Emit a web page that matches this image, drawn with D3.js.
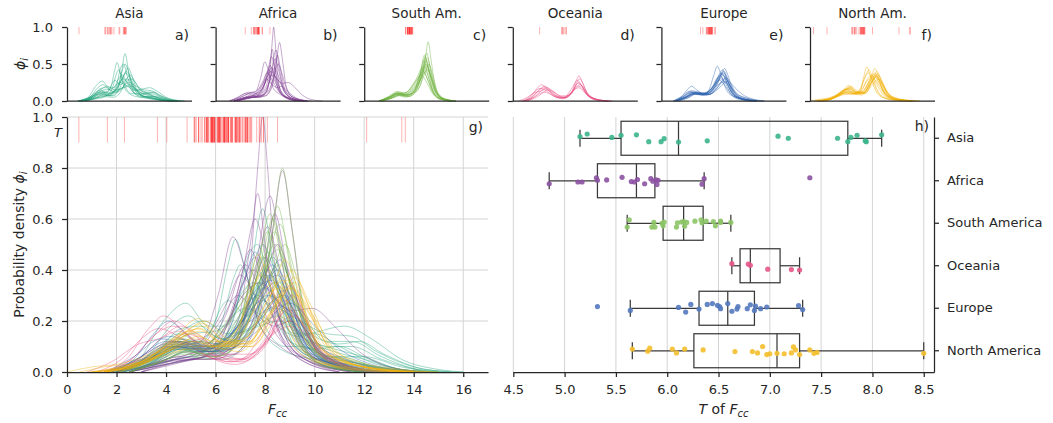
<!DOCTYPE html>
<html>
<head>
<meta charset="utf-8">
<script src="https://d3js.org/d3.v7.min.js"></script>
<style>
  body { margin: 0; background: #fff; }
  svg text { font-family: "DejaVu Sans", sans-serif; fill: #262626; }
  .domain, .tick line { stroke: #262626; stroke-width: 1.25; }
</style>
</head>
<body>
<div id="chart"></div>
<script>
// ---------- data ----------
const regions = ["Asia", "Africa", "South America", "Oceania", "Europe", "North America"];
const shortNames = ["Asia", "Africa", "South Am.", "Oceania", "Europe", "North Am."];
const panelTags = ["a)", "b)", "c)", "d)", "e)", "f)"];
const curveColors = ["#1fa37a", "#7b3a8f", "#6fb23f", "#e8457f", "#2f62ae", "#f1b20c"];
const pointColors = ["#3cb48c", "#8c52a2", "#8cc465", "#e6568a", "#5479be", "#f4bf2c"];

// density curves phi_i, key points [F_cc, phi]
const asiaCurves = [
  [[1.5,0],[3,0.02],[4,0.07],[4.8,0.1],[5.8,0.07],[6.8,0.12],[7.4,0.38],[7.9,0.64],[8.4,0.38],[9.2,0.1],[10.3,0.05],[11,0.06],[12.5,0.02],[15,0]],
  [[1.5,0],[2.8,0.03],[3.7,0.1],[4.5,0.15],[5.3,0.12],[6,0.2],[6.5,0.42],[6.8,0.52],[7.2,0.4],[7.8,0.18],[8.8,0.08],[10,0.05],[11.5,0.03],[14,0]],
  [[1.5,0],[2.8,0.04],[3.9,0.2],[4.8,0.27],[5.7,0.18],[6.4,0.18],[7,0.3],[7.5,0.35],[8.1,0.26],[9,0.12],[10,0.09],[11,0.1],[12.2,0.05],[13.5,0.01],[15,0]],
  [[2,0],[3.5,0.03],[5,0.08],[6.3,0.07],[7.3,0.2],[7.9,0.38],[8.3,0.45],[8.8,0.35],[9.5,0.15],[10.5,0.06],[12,0.03],[14,0]],
  [[1.8,0],[3.2,0.04],[4.5,0.15],[5.5,0.2],[6.5,0.15],[7.5,0.18],[8.3,0.28],[8.8,0.3],[9.5,0.22],[10.5,0.12],[11.5,0.12],[12.7,0.06],[14.2,0.01],[15.5,0]],
  [[1.5,0],[3,0.05],[4.5,0.12],[5.8,0.08],[7,0.2],[7.6,0.33],[8,0.38],[8.5,0.32],[9.3,0.15],[10.5,0.06],[12,0.06],[13.5,0.02],[15,0]],
  [[2,0],[3.3,0.05],[4.3,0.12],[5,0.15],[6,0.16],[7.2,0.25],[8.2,0.2],[9.3,0.14],[10.2,0.16],[11.2,0.18],[12.3,0.13],[13.5,0.05],[15,0.01],[16,0]],
  [[2.5,0],[4,0.04],[5.2,0.07],[6.3,0.12],[7.1,0.24],[7.7,0.3],[8.4,0.23],[9.2,0.15],[10,0.15],[11,0.1],[12.5,0.03],[14.5,0]],
  [[1.8,0],[3.2,0.06],[4.2,0.18],[4.9,0.22],[5.8,0.15],[6.8,0.12],[7.8,0.19],[8.5,0.22],[9.4,0.16],[10.5,0.1],[11.5,0.1],[12.7,0.05],[14.5,0]],
  [[2.5,0],[4,0.03],[5.2,0.06],[6.2,0.18],[6.7,0.36],[7,0.42],[7.4,0.34],[8.1,0.16],[8.8,0.1],[9.5,0.1],[10.6,0.05],[12.5,0.01],[14,0]],
  [[2.5,0],[4,0.04],[5,0.06],[6.3,0.05],[7.4,0.14],[8.1,0.3],[8.6,0.35],[9.2,0.27],[10,0.14],[11,0.11],[11.8,0.12],[12.8,0.07],[14.5,0.01],[16,0]],
  [[1.5,0],[2.8,0.03],[4.4,0.1],[5.5,0.12],[6.5,0.28],[7.3,0.22],[8.2,0.3],[9,0.2],[10,0.09],[11.5,0.04],[13,0.01],[14.5,0]],
  [[2,0],[3.5,0.04],[4.7,0.13],[5.6,0.1],[6.6,0.14],[7.5,0.3],[8.1,0.4],[8.7,0.3],[9.6,0.13],[10.8,0.08],[12,0.05],[13.5,0.01],[15,0]],
  [[2.2,0],[3.6,0.05],[4.6,0.09],[5.6,0.07],[6.7,0.2],[7.3,0.45],[7.7,0.5],[8.2,0.33],[9,0.12],[10.2,0.06],[11.5,0.04],[13,0]],
  [[1.5,0],[3,0.04],[4.3,0.1],[5.3,0.12],[6.3,0.11],[7.4,0.17],[8.4,0.25],[9.4,0.2],[10.5,0.15],[11.5,0.14],[12.5,0.08],[14,0.02],[15.5,0]],
  [[2.5,0],[4,0.05],[5,0.09],[6,0.1],[7,0.22],[7.9,0.5],[8.3,0.42],[9,0.18],[10,0.08],[11.3,0.05],[13,0.01],[14.5,0]],
  [[2,0],[3.4,0.05],[4.6,0.17],[5.4,0.18],[6.2,0.13],[7.2,0.16],[8.6,0.2],[9.6,0.13],[10.8,0.09],[12,0.06],[13.5,0.01],[15,0]]
];
const africaCurves = [
  [[2.5,0],[4,0.03],[5,0.05],[6,0.05],[6.9,0.12],[7.4,0.4],[7.7,0.8],[7.9,1.0],[8.1,0.8],[8.4,0.4],[8.9,0.12],[9.8,0.04],[11,0.01],[12.5,0]],
  [[2.5,0],[3.7,0.04],[4.5,0.06],[5.5,0.05],[6.8,0.07],[7.7,0.2],[8.3,0.55],[8.7,0.79],[9.1,0.55],[9.6,0.2],[10.5,0.05],[12,0.01],[13,0]],
  [[2.5,0],[3.8,0.04],[4.8,0.08],[5.8,0.06],[6.9,0.12],[7.6,0.4],[8.2,0.69],[8.7,0.42],[9.3,0.15],[10.3,0.04],[12,0]],
  [[2,0],[3.3,0.04],[4.5,0.1],[5.4,0.12],[6.1,0.3],[6.7,0.53],[7.2,0.4],[7.8,0.18],[8.6,0.1],[9.6,0.05],[11,0.01],[12.5,0]],
  [[2.5,0],[4,0.04],[5.2,0.05],[6.3,0.12],[7.1,0.4],[7.6,0.6],[8.1,0.42],[8.8,0.14],[9.8,0.04],[11.5,0]],
  [[2.5,0],[4,0.03],[5.5,0.06],[6.5,0.2],[7.5,0.4],[8.3,0.3],[9.1,0.24],[9.9,0.25],[10.8,0.18],[11.8,0.08],[13,0.02],[14.5,0]],
  [[2,0],[3.3,0.06],[4.5,0.12],[5.5,0.1],[6.4,0.22],[7.2,0.42],[7.9,0.3],[8.8,0.12],[10,0.04],[11.5,0]],
  [[3,0],[4.3,0.03],[5.5,0.06],[6.7,0.07],[7.6,0.2],[8.1,0.4],[8.5,0.5],[9,0.38],[9.7,0.15],[10.7,0.04],[12.5,0]],
  [[1.8,0],[3,0.05],[4,0.1],[5,0.09],[6.2,0.15],[7.1,0.3],[7.8,0.35],[8.6,0.27],[9.6,0.12],[10.8,0.04],[12.5,0]],
  [[2.5,0],[4,0.05],[5.2,0.08],[6.2,0.2],[6.9,0.3],[7.7,0.22],[8.4,0.18],[9,0.2],[9.8,0.13],[11,0.04],[12.5,0]],
  [[3,0],[4.5,0.05],[5.7,0.05],[6.8,0.12],[7.6,0.38],[8.1,0.57],[8.6,0.4],[9.3,0.14],[10.3,0.04],[12,0]],
  [[2.5,0],[3.8,0.03],[4.9,0.07],[6,0.1],[6.9,0.32],[7.4,0.48],[7.9,0.36],[8.6,0.14],[9.6,0.04],[11,0]],
  [[2.5,0],[4,0.04],[5.2,0.07],[6.3,0.15],[7.1,0.35],[7.6,0.45],[8.2,0.3],[9,0.12],[10,0.04],[11.5,0]],
  [[3,0],[4.4,0.04],[5.6,0.06],[6.8,0.1],[7.8,0.3],[8.4,0.62],[8.8,0.45],[9.4,0.16],[10.4,0.04],[12,0]],
  [[2,0],[3.4,0.05],[4.6,0.11],[5.6,0.14],[6.5,0.28],[7,0.38],[7.6,0.3],[8.5,0.14],[9.6,0.05],[11,0]],
  [[2.5,0],[3.8,0.04],[5,0.06],[6.2,0.08],[7.3,0.25],[8,0.45],[8.5,0.35],[9.3,0.13],[10.5,0.03],[12,0]],
  [[3,0],[4.5,0.04],[5.8,0.07],[6.9,0.2],[7.4,0.5],[7.7,0.7],[8,0.5],[8.5,0.18],[9.4,0.05],[11,0]]
];
const southAmCurves = [
  [[2,0],[3.4,0.03],[4.6,0.08],[5.6,0.05],[6.6,0.1],[7.6,0.2],[8.3,0.55],[8.7,0.8],[9.1,0.55],[9.7,0.18],[10.6,0.04],[12,0]],
  [[2,0],[3.4,0.05],[4.5,0.1],[5.4,0.08],[6.5,0.15],[7.4,0.28],[8,0.5],[8.3,0.6],[8.7,0.48],[9.4,0.18],[10.4,0.04],[12,0]],
  [[2.2,0],[3.6,0.05],[4.8,0.11],[5.8,0.08],[6.8,0.15],[7.6,0.38],[8.1,0.55],[8.6,0.38],[9.3,0.14],[10.3,0.03],[12,0]],
  [[2,0],[3.3,0.04],[4.4,0.09],[5.5,0.07],[6.6,0.11],[7.6,0.28],[8.4,0.5],[9,0.35],[9.8,0.12],[10.8,0.03],[12.5,0]],
  [[2.2,0],[3.6,0.06],[4.7,0.12],[5.5,0.1],[6.3,0.18],[7.2,0.32],[7.9,0.45],[8.5,0.32],[9.3,0.12],[10.3,0.03],[12,0]],
  [[2.5,0],[3.8,0.04],[4.9,0.08],[6,0.06],[7,0.13],[7.9,0.35],[8.6,0.58],[9.1,0.4],[9.8,0.13],[10.8,0.03],[12.5,0]],
  [[2.5,0],[3.8,0.05],[5,0.1],[5.8,0.12],[6.7,0.22],[7.4,0.32],[8,0.4],[8.6,0.3],[9.4,0.11],[10.5,0.03],[12,0]],
  [[2,0],[3.2,0.05],[4.3,0.1],[5.3,0.08],[6.5,0.1],[7.6,0.27],[8.5,0.48],[9.1,0.32],[9.9,0.1],[11,0.02],[12.5,0]],
  [[2.3,0],[3.5,0.04],[4.6,0.09],[5.6,0.07],[6.7,0.12],[7.6,0.35],[8.2,0.62],[8.7,0.42],[9.4,0.13],[10.4,0.03],[12,0]],
  [[2,0],[3.3,0.06],[4.5,0.13],[5.4,0.11],[6.4,0.17],[7.1,0.28],[7.7,0.35],[8.4,0.27],[9.3,0.1],[10.4,0.02],[12,0]],
  [[2.5,0],[3.8,0.04],[4.8,0.07],[6,0.06],[7.2,0.14],[8.2,0.36],[8.8,0.5],[9.3,0.36],[10,0.12],[11,0.03],[12.5,0]],
  [[2.2,0],[3.5,0.05],[4.7,0.1],[5.7,0.08],[6.7,0.13],[7.7,0.33],[8.4,0.55],[8.9,0.38],[9.6,0.13],[10.6,0.03],[12,0]],
  [[2,0],[3.4,0.05],[4.6,0.11],[5.5,0.09],[6.5,0.16],[7.4,0.3],[8.1,0.47],[8.7,0.33],[9.5,0.11],[10.5,0.02],[12,0]],
  [[2.5,0],[3.8,0.04],[5,0.09],[6,0.08],[7,0.14],[7.9,0.4],[8.5,0.65],[9,0.42],[9.7,0.13],[10.7,0.03],[12,0]],
  [[2,0],[3.3,0.05],[4.4,0.11],[5.4,0.09],[6.6,0.14],[7.7,0.3],[8.6,0.42],[9.3,0.28],[10.1,0.08],[11.2,0.02],[12.5,0]]
];
const oceaniaCurves = [
  [[1.3,0],[2.4,0.05],[3.3,0.17],[3.9,0.22],[4.7,0.16],[5.6,0.07],[6.8,0.03],[7.9,0.1],[8.6,0.27],[9,0.34],[9.4,0.27],[10.1,0.1],[11,0.03],[12.5,0]],
  [[1.5,0],[2.6,0.05],[3.5,0.14],[4.3,0.2],[5.1,0.15],[6,0.07],[7,0.04],[8,0.1],[8.7,0.25],[9.1,0.3],[9.5,0.24],[10.3,0.08],[11.5,0.02],[13,0]],
  [[1.8,0],[3,0.06],[3.9,0.14],[4.6,0.18],[5.4,0.14],[6.3,0.07],[7.2,0.05],[8.1,0.12],[8.9,0.25],[9.4,0.2],[10.2,0.08],[11.5,0.02],[13,0]],
  [[1.2,0],[2.2,0.05],[3,0.13],[3.7,0.17],[4.5,0.14],[5.5,0.07],[6.7,0.04],[7.9,0.1],[8.7,0.2],[9.2,0.22],[9.7,0.17],[10.5,0.07],[12,0.01],[13.5,0]],
  [[2,0],[3.2,0.05],[4.1,0.11],[4.8,0.15],[5.6,0.12],[6.5,0.07],[7.4,0.07],[8.3,0.15],[9,0.2],[9.6,0.15],[10.5,0.06],[12,0.01],[13.5,0]],
  [[1.5,0],[2.7,0.04],[3.5,0.09],[4.2,0.12],[5,0.1],[6,0.05],[7,0.05],[8,0.17],[8.8,0.28],[9.3,0.22],[10.1,0.08],[11.5,0.01],[13,0]],
  [[0.8,0],[1.8,0.04],[2.9,0.11],[3.7,0.13],[4.5,0.16],[5.4,0.1],[6.5,0.04],[7.6,0.08],[8.5,0.16],[9,0.18],[9.7,0.12],[10.8,0.04],[12.5,0]],
  [[1.5,0],[2.6,0.05],[3.6,0.15],[4.3,0.18],[5.1,0.13],[6.1,0.06],[7.1,0.05],[8.1,0.14],[8.9,0.24],[9.4,0.2],[10.2,0.07],[11.5,0.01],[13,0]]
];
const europeCurves = [
  [[1.6,0],[2.7,0.05],[3.5,0.15],[4.1,0.2],[4.8,0.15],[5.6,0.1],[6.4,0.14],[7.1,0.34],[7.6,0.47],[8.1,0.36],[8.8,0.16],[9.8,0.06],[11,0.03],[13,0]],
  [[2,0],[3.1,0.05],[4.3,0.12],[5.4,0.1],[6.5,0.09],[7.5,0.2],[8.2,0.38],[8.6,0.44],[9,0.36],[9.7,0.16],[10.7,0.05],[12.5,0.01],[14,0]],
  [[2,0],[3.3,0.05],[4.5,0.1],[5.6,0.08],[6.6,0.1],[7.5,0.22],[8.4,0.35],[9.1,0.25],[10,0.1],[11.2,0.03],[13,0]],
  [[1.8,0],[3,0.06],[4,0.11],[5,0.09],[6.2,0.08],[7.3,0.14],[8.3,0.28],[8.8,0.32],[9.4,0.24],[10.2,0.1],[11,0.06],[12.3,0.02],[14,0]],
  [[2,0],[3.4,0.06],[4.6,0.12],[5.6,0.1],[6.6,0.13],[7.5,0.28],[8.2,0.38],[8.8,0.27],[9.6,0.1],[10.8,0.03],[12.5,0]],
  [[2,0],[3.2,0.04],[4.4,0.09],[5.5,0.08],[6.6,0.09],[7.7,0.19],[8.7,0.3],[9.4,0.2],[10.3,0.07],[11.5,0.02],[13,0]],
  [[1.6,0],[2.7,0.06],[3.8,0.13],[4.8,0.11],[5.8,0.1],[6.9,0.18],[7.9,0.28],[8.7,0.2],[9.6,0.08],[10.8,0.03],[12.5,0]],
  [[2.3,0],[3.6,0.04],[4.9,0.1],[5.9,0.09],[6.9,0.14],[7.8,0.3],[8.5,0.4],[9.1,0.28],[9.9,0.09],[11,0.02],[12.5,0]],
  [[1.8,0],[3,0.04],[4.2,0.1],[5.3,0.09],[6.5,0.09],[7.8,0.17],[9,0.27],[10,0.18],[11,0.09],[12.3,0.03],[14,0]],
  [[2.3,0],[3.7,0.05],[5,0.12],[6,0.11],[7,0.19],[8,0.33],[8.7,0.24],[9.5,0.09],[10.6,0.02],[12,0]],
  [[2,0],[3.3,0.05],[4.4,0.1],[5.4,0.09],[6.4,0.1],[7.3,0.2],[8,0.34],[8.5,0.38],[9.1,0.24],[10,0.08],[11.3,0.02],[13,0]],
  [[1.8,0],[3,0.06],[4.1,0.14],[5,0.12],[6,0.1],[7.1,0.2],[8.1,0.3],[8.9,0.23],[9.8,0.09],[11,0.03],[13,0]],
  [[2,0],[3.3,0.05],[4.5,0.11],[5.5,0.09],[6.6,0.12],[7.6,0.3],[8.3,0.42],[8.9,0.3],[9.7,0.1],[10.8,0.03],[12.5,0]],
  [[1.6,0],[2.8,0.05],[4,0.12],[5,0.1],[6.2,0.1],[7.4,0.2],[8.6,0.26],[9.5,0.18],[10.5,0.08],[11.8,0.03],[13.5,0]],
  [[2.2,0],[3.5,0.05],[4.7,0.1],[5.8,0.1],[6.8,0.17],[7.7,0.33],[8.3,0.36],[9,0.22],[9.9,0.07],[11.2,0.02],[13,0]]
];
const northAmCurves = [
  [[0.5,0],[1.5,0.02],[3,0.04],[4.3,0.13],[5.3,0.21],[6.1,0.12],[6.7,0.1],[7.3,0.32],[7.7,0.46],[8.2,0.34],[8.9,0.14],[9.8,0.05],[11,0.02],[13,0]],
  [[1,0],[2.5,0.02],[3.8,0.07],[5,0.15],[6,0.1],[7,0.08],[7.9,0.2],[8.5,0.38],[8.8,0.44],[9.2,0.36],[9.9,0.14],[11,0.04],[13,0.01],[15,0]],
  [[1.5,0],[3,0.03],[4.5,0.12],[5.5,0.18],[6.5,0.11],[7.5,0.1],[8.4,0.25],[9.1,0.4],[9.6,0.3],[10.3,0.12],[11.5,0.03],[14,0]],
  [[1.5,0],[3,0.03],[4.3,0.09],[5.2,0.12],[6.2,0.09],[7.2,0.1],[8.2,0.26],[8.9,0.36],[9.5,0.26],[10.3,0.1],[11.5,0.03],[14,0]],
  [[1,0],[2.5,0.02],[3.8,0.07],[4.8,0.1],[5.8,0.1],[6.8,0.16],[7.5,0.33],[7.9,0.38],[8.4,0.3],[9.2,0.12],[10.3,0.04],[12,0.01],[14,0]],
  [[1.5,0],[3,0.04],[4.5,0.13],[5.4,0.16],[6.4,0.1],[7.4,0.12],[8.3,0.25],[9,0.33],[9.7,0.24],[10.6,0.1],[11.8,0.04],[13.5,0.01],[15,0]],
  [[1.5,0],[3,0.03],[4.2,0.1],[5.1,0.13],[6.1,0.1],[7.1,0.12],[8,0.24],[8.6,0.3],[9.3,0.22],[10.2,0.08],[11.5,0.02],[13.5,0]],
  [[2,0],[3.5,0.05],[4.7,0.15],[5.6,0.2],[6.5,0.13],[7.5,0.12],[8.5,0.27],[9.2,0.35],[9.8,0.25],[10.6,0.09],[12,0.02],[14,0]],
  [[1,0],[2.5,0.02],[3.8,0.06],[4.9,0.09],[5.9,0.09],[6.9,0.17],[7.6,0.35],[8,0.42],[8.5,0.32],[9.3,0.12],[10.4,0.03],[12.5,0]],
  [[1.5,0],[3,0.03],[4.4,0.1],[5.3,0.14],[6.3,0.1],[7.4,0.1],[8.5,0.22],[9.3,0.3],[10,0.21],[10.9,0.08],[12.3,0.02],[14.5,0]],
  [[0,0],[1,0.02],[2,0.03],[3.3,0.07],[4.6,0.15],[5.4,0.17],[6.3,0.11],[7.3,0.14],[8.2,0.3],[8.7,0.36],[9.3,0.27],[10.2,0.1],[11.6,0.03],[13.5,0]],
  [[1,0],[2.5,0.03],[4,0.1],[5,0.16],[5.9,0.12],[7,0.12],[8.1,0.28],[8.8,0.38],[9.4,0.28],[10.2,0.1],[11.5,0.03],[13.5,0]],
  [[1.5,0],[3,0.04],[4.4,0.12],[5.3,0.17],[6.2,0.12],[7.2,0.11],[8.3,0.24],[9.1,0.33],[9.8,0.23],[10.7,0.08],[12,0.02],[14,0]],
  [[1,0],[2.7,0.03],[4,0.09],[5,0.12],[6,0.1],[7,0.14],[7.8,0.3],[8.4,0.35],[9.1,0.22],[10,0.08],[11.3,0.02],[13,0]],
  [[1.5,0],[3,0.04],[4.5,0.14],[5.5,0.19],[6.4,0.12],[7.4,0.11],[8.6,0.3],[9.2,0.37],[9.8,0.27],[10.7,0.09],[12,0.02],[14,0]],
  [[0.8,0],[2.2,0.02],[3.6,0.06],[4.8,0.11],[5.8,0.1],[6.9,0.14],[8,0.3],[8.7,0.33],[9.5,0.22],[10.5,0.07],[12,0.02],[14,0]]
];

// T of F_cc per country (shown in panel h)
const asiaT = [5.15,5.22,5.46,5.55,5.70,5.82,5.94,5.97,6.11,6.39,7.08,7.18,7.66,7.76,7.79,7.85,7.93,7.94,8.09];
const africaT = [4.85,5.13,5.17,5.31,5.32,5.41,5.56,5.65,5.68,5.71,5.78,5.84,5.86,5.89,5.90,5.91,6.34,6.36,7.39];
const southAmT = [5.61,5.63,5.85,5.87,5.88,5.95,5.96,5.97,6.09,6.10,6.14,6.16,6.17,6.19,6.27,6.33,6.34,6.38,6.45,6.47,6.52,6.52,6.62];
const oceaniaT = [6.63,6.79,6.81,6.98,7.21,7.29];
const europeT = [5.32,5.64,6.11,6.18,6.23,6.31,6.39,6.44,6.49,6.51,6.52,6.59,6.63,6.68,6.69,6.78,6.81,6.85,6.86,6.91,6.97,7.28,7.32];
const northAmT = [5.66,5.81,5.83,6.05,6.09,6.17,6.35,6.66,6.83,6.88,6.93,6.97,7.00,7.07,7.14,7.21,7.23,7.25,7.29,7.39,7.43,7.46,8.50];
// T values outside the range of panel h (only in the rug marks)
const asiaTOut = [1.63];
const africaTOut = [4.03];
const southAmTOut = [];
const oceaniaTOut = [3.65];
const europeTOut = [];
const northAmTOut = [0.48, 2.32, 12.1, 13.52, 13.66];

// strip jitter, fraction of a category row
const asiaJitter = [-0.04,-0.10,-0.02,-0.07,-0.08,0.08,0.08,0.01,0.09,0.06,-0.05,0,0,0.08,-0.02,-0.07,0.06,0.08,-0.08];
const africaJitter = [0.07,0.03,0.03,-0.07,-0.01,-0.02,-0.08,0.02,0.03,-0.03,0.07,-0.05,0.01,-0.02,0.09,-0.01,0.08,-0.05,-0.07];
const southAmJitter = [0.09,-0.08,0.09,-0.02,0.09,0,0.06,-0.03,0.09,-0.01,-0.03,-0.04,0.07,-0.02,-0.05,-0.08,-0.01,-0.05,-0.04,0.06,-0.05,-0.02,-0.02];
const oceaniaJitter = [-0.05,-0.04,-0.01,0.08,0.09,0.10];
const europeJitter = [-0.04,0.05,-0.02,0.09,-0.09,0.02,-0.09,-0.11,-0.07,-0.04,0.01,-0.11,0.07,0.02,-0.04,0.01,-0.08,0.05,-0.05,0.01,-0.03,-0.06,0.03];
const northAmJitter = [-0.04,0.01,-0.06,-0.04,0.05,-0.04,-0.02,0.02,0.02,0.05,-0.10,0.09,0.07,0.06,0.07,0.05,-0.09,-0.02,0.09,-0.02,0.06,0.04,0.06];

// box stats: [whisker low, Q1, median, Q3, whisker high]
const asiaBox = [5.15, 5.55, 6.11, 7.76, 8.09];
const africaBox = [4.85, 5.32, 5.70, 5.88, 6.36];
const southAmBox = [5.61, 5.96, 6.16, 6.35, 6.62];
const oceaniaBox = [6.63, 6.71, 6.81, 7.10, 7.29];
const europeBox = [5.64, 6.31, 6.59, 6.85, 7.32];
const northAmBox = [5.66, 6.26, 7.07, 7.29, 8.50];

const gYTicks = [0, 0.2, 0.4, 0.6, 0.8, 1.0];
const gXTicks = [0, 2, 4, 6, 8, 10, 12, 14, 16];
const topYTicks = [0, 0.5, 1.0];
const hXTicks = [4.5, 5.0, 5.5, 6.0, 6.5, 7.0, 7.5, 8.0, 8.5];

const curveSets = [asiaCurves, africaCurves, southAmCurves, oceaniaCurves, europeCurves, northAmCurves];
const tSets = [asiaT, africaT, southAmT, oceaniaT, europeT, northAmT];
const tOutSets = [asiaTOut, africaTOut, southAmTOut, oceaniaTOut, europeTOut, northAmTOut];
const jitterSets = [asiaJitter, africaJitter, southAmJitter, oceaniaJitter, europeJitter, northAmJitter];
const boxSets = [asiaBox, africaBox, southAmBox, oceaniaBox, europeBox, northAmBox];

// ---------- layout ----------
const svgWidth = 1053, svgHeight = 423;
const svg = d3.select("#chart").append("svg")
  .attr("width", svgWidth).attr("height", svgHeight);

const gridColor = "#d4d4d4";
const rugColor = "red";

// ---------- top panels a-f ----------
const topLeft = 67, topStep = 148.6, topWidth = 125, topY0 = 101, topY1 = 27;
const topY = d3.scaleLinear().domain([0, 1]).range([topY0, topY1]);

regions.forEach((region, i) => {
  const left = topLeft + i * topStep;
  const x = d3.scaleLinear().domain([0, 17]).range([left, left + topWidth]);
  const panel = svg.append("g");

  const line = d3.line().x(d => x(d[0])).y(d => topY(d[1])).curve(d3.curveMonotoneX);
  panel.append("g").selectAll("path")
    .data(curveSets[i]).enter().append("path")
    .attr("d", line)
    .attr("fill", "none")
    .attr("stroke", curveColors[i])
    .attr("stroke-width", 0.8)
    .attr("stroke-opacity", 0.55);

  panel.append("g").selectAll("line")
    .data(tSets[i].concat(tOutSets[i])).enter().append("line")
    .attr("x1", d => x(d)).attr("x2", d => x(d))
    .attr("y1", topY(1)).attr("y2", topY(0.9))
    .attr("stroke", rugColor).attr("stroke-opacity", 0.3).attr("stroke-width", 1);

  const yAxis = d3.axisLeft(topY).tickValues(topYTicks).tickSize(5).tickSizeOuter(0).tickPadding(9)
    .tickFormat(i === 0 ? d3.format(".1f") : "");
  panel.append("g").attr("transform", `translate(${left},0)`).call(yAxis)
    .selectAll("text").attr("font-size", 13);

  panel.append("line")
    .attr("x1", left).attr("x2", left + topWidth)
    .attr("y1", topY0).attr("y2", topY0)
    .attr("stroke", "#262626").attr("stroke-width", 1.25);

  panel.append("text")
    .attr("x", left + topWidth / 2).attr("y", 18)
    .attr("text-anchor", "middle").attr("font-size", 13.5)
    .text(shortNames[i]);

  panel.append("text")
    .attr("x", left + topWidth - 3).attr("y", 40)
    .attr("text-anchor", "end").attr("font-size", 14)
    .text(panelTags[i]);
});

const phiTop = svg.append("text")
  .attr("transform", "translate(25,64) rotate(-90)")
  .attr("text-anchor", "middle").attr("font-size", 14);
phiTop.append("tspan").attr("font-style", "italic").text("ϕ");
phiTop.append("tspan").attr("font-style", "italic").attr("font-size", 10).attr("dy", 3).text("i");

// ---------- panel g ----------
const gx = d3.scaleLinear().domain([0, 17]).range([67, 488]);
const gy = d3.scaleLinear().domain([0, 1]).range([372, 117]);
const gPanel = svg.append("g");

gPanel.append("g").selectAll("line")
  .data(gXTicks.slice(1)).enter().append("line")
  .attr("x1", d => gx(d)).attr("x2", d => gx(d))
  .attr("y1", gy(0)).attr("y2", gy(1))
  .attr("stroke", gridColor).attr("stroke-width", 1);
gPanel.append("g").selectAll("line")
  .data(gYTicks.slice(1)).enter().append("line")
  .attr("x1", gx(0)).attr("x2", gx(17))
  .attr("y1", d => gy(d)).attr("y2", d => gy(d))
  .attr("stroke", gridColor).attr("stroke-width", 1);

const gLine = d3.line().x(d => gx(d[0])).y(d => gy(d[1])).curve(d3.curveMonotoneX);
curveSets.forEach((curves, i) => {
  gPanel.append("g").selectAll("path")
    .data(curves).enter().append("path")
    .attr("d", gLine)
    .attr("fill", "none")
    .attr("stroke", curveColors[i])
    .attr("stroke-width", 0.8)
    .attr("stroke-opacity", 0.5);
});

const allT = d3.merge(tSets.concat(tOutSets));
gPanel.append("g").selectAll("line")
  .data(allT).enter().append("line")
  .attr("x1", d => gx(d)).attr("x2", d => gx(d))
  .attr("y1", gy(1)).attr("y2", gy(0.9))
  .attr("stroke", rugColor).attr("stroke-opacity", 0.3).attr("stroke-width", 1);

gPanel.append("g").attr("transform", "translate(67,0)")
  .call(d3.axisLeft(gy).tickValues(gYTicks).tickSize(5).tickSizeOuter(0).tickPadding(9).tickFormat(d3.format(".1f")))
  .selectAll("text").attr("font-size", 13);
gPanel.append("g").attr("transform", "translate(0,372)")
  .call(d3.axisBottom(gx).tickValues(gXTicks).tickSize(5).tickSizeOuter(0).tickPadding(8))
  .selectAll("text").attr("font-size", 13);

gPanel.append("text")
  .attr("x", 62).attr("y", 136.5).attr("text-anchor", "end")
  .attr("font-size", 13).attr("font-style", "italic").text("T");

gPanel.append("text")
  .attr("x", 483).attr("y", 132).attr("text-anchor", "end")
  .attr("font-size", 14).text("g)");

const gXLabel = gPanel.append("text")
  .attr("x", 277.5).attr("y", 414).attr("text-anchor", "middle").attr("font-size", 14);
gXLabel.append("tspan").attr("font-style", "italic").text("F");
gXLabel.append("tspan").attr("font-style", "italic").attr("font-size", 10).attr("dy", 3).text("cc");

const gYLabel = gPanel.append("text")
  .attr("transform", "translate(24,244.5) rotate(-90)")
  .attr("text-anchor", "middle").attr("font-size", 14);
gYLabel.append("tspan").text("Probability density ");
gYLabel.append("tspan").attr("font-style", "italic").text("ϕ");
gYLabel.append("tspan").attr("font-style", "italic").attr("font-size", 10).attr("dy", 3).text("i");

// ---------- panel h ----------
const hx = d3.scaleLinear().domain([4.5, 8.6]).range([513.3, 934]);
const hy = d3.scaleBand().domain(regions).range([117, 372]).padding(0);
const bw = hy.bandwidth();
const hPanel = svg.append("g");

hPanel.append("g").selectAll("line")
  .data(hXTicks).enter().append("line")
  .attr("x1", d => hx(d)).attr("x2", d => hx(d))
  .attr("y1", 117).attr("y2", 372)
  .attr("stroke", gridColor).attr("stroke-width", 1);

const boxColor = "#3a3a3a";
regions.forEach((region, i) => {
  const s = boxSets[i];
  const cy = hy(region) + bw / 2;
  const g = hPanel.append("g")
    .attr("fill", "none").attr("stroke", boxColor).attr("stroke-width", 1.25);
  g.append("line").attr("x1", hx(s[0])).attr("x2", hx(s[1])).attr("y1", cy).attr("y2", cy);
  g.append("line").attr("x1", hx(s[3])).attr("x2", hx(s[4])).attr("y1", cy).attr("y2", cy);
  g.append("line").attr("x1", hx(s[0])).attr("x2", hx(s[0])).attr("y1", cy - bw * 0.2).attr("y2", cy + bw * 0.2);
  g.append("line").attr("x1", hx(s[4])).attr("x2", hx(s[4])).attr("y1", cy - bw * 0.2).attr("y2", cy + bw * 0.2);
  g.append("rect")
    .attr("x", hx(s[1])).attr("width", hx(s[3]) - hx(s[1]))
    .attr("y", cy - bw * 0.4).attr("height", bw * 0.8);
  g.append("line").attr("x1", hx(s[2])).attr("x2", hx(s[2])).attr("y1", cy - bw * 0.4).attr("y2", cy + bw * 0.4);

  hPanel.append("g").selectAll("circle")
    .data(tSets[i]).enter().append("circle")
    .attr("cx", d => hx(d))
    .attr("cy", (d, k) => cy + jitterSets[i][k] * bw)
    .attr("r", 2.6)
    .attr("fill", pointColors[i])
    .attr("fill-opacity", 0.9);
});

hPanel.append("g").attr("transform", "translate(0,372)")
  .call(d3.axisBottom(hx).tickValues(hXTicks).tickSize(5).tickSizeOuter(0).tickPadding(8).tickFormat(d3.format(".1f")))
  .selectAll("text").attr("font-size", 13);
hPanel.append("g").attr("transform", "translate(934,0)")
  .call(d3.axisRight(hy).tickSize(5).tickSizeOuter(0).tickPadding(8))
  .selectAll("text").attr("font-size", 13);

hPanel.append("text")
  .attr("x", 929).attr("y", 131).attr("text-anchor", "end")
  .attr("font-size", 14).text("h)");

const hXLabel = hPanel.append("text")
  .attr("x", 723.5).attr("y", 414).attr("text-anchor", "middle").attr("font-size", 14);
hXLabel.append("tspan").attr("font-style", "italic").text("T");
hXLabel.append("tspan").text(" of ");
hXLabel.append("tspan").attr("font-style", "italic").text("F");
hXLabel.append("tspan").attr("font-style", "italic").attr("font-size", 10).attr("dy", 3).text("cc");
</script>
</body>
</html>
